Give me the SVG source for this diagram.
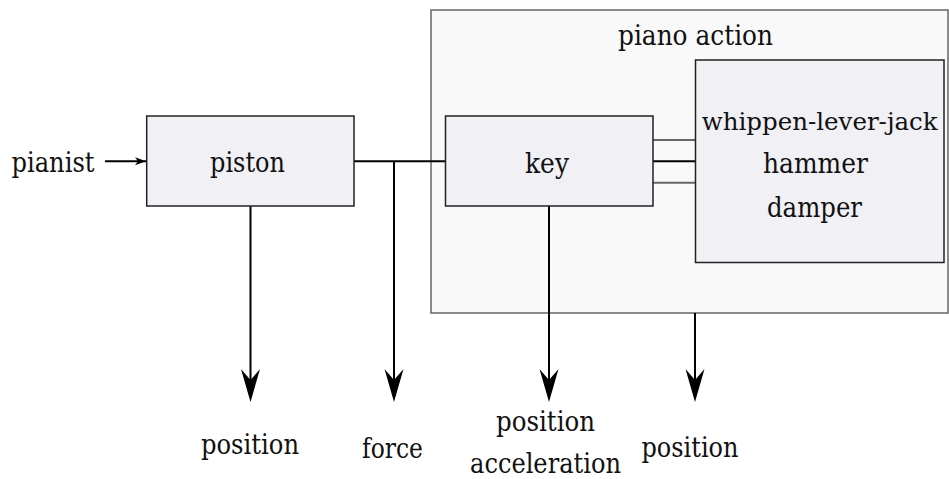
<svg xmlns="http://www.w3.org/2000/svg" width="949" height="479" viewBox="0 0 949 479">
<style>
text{font-family:"DejaVu Serif","Liberation Serif",serif;font-size:27.5px;fill:#111;}
.c{text-anchor:middle;}
.ln{stroke:#000;stroke-width:2;fill:none;}
.gl{stroke:#666;stroke-width:2;fill:none;}
.box{fill:#f0f0f5;stroke:#222;stroke-width:1.5;}
.ah{fill:#000;}
</style>
<defs>
<path id="bigHead" d="M0,0 L-9.5,-33 L0,-22 L9.5,-33 Z"/>
<marker id="small" markerUnits="userSpaceOnUse" markerWidth="14" markerHeight="10" viewBox="-12 -5 14 10" refX="0" refY="0" orient="auto">
<path d="M0,0 L-11,-4 L-8,0 L-11,4 Z" fill="#000"/>
</marker>
</defs>
<g id="piano-action">
<rect x="431" y="10" width="517" height="303" fill="#f9f9f9" stroke="#666" stroke-width="1.5"/>
<text class="c" x="695.5" y="45" textLength="155" lengthAdjust="spacingAndGlyphs">piano action</text>
</g>
<g id="connectors">
<line class="ln" x1="105" y1="161.3" x2="146" y2="161.3" marker-end="url(#small)"/>
<line class="ln" x1="354" y1="161.3" x2="445.5" y2="161.3"/>
<line class="ln" x1="394" y1="161.3" x2="394" y2="385"/>
<line class="ln" x1="250.5" y1="206" x2="250.5" y2="385"/>
<line class="ln" x1="549" y1="206" x2="549" y2="385"/>
<line class="ln" x1="695" y1="313" x2="695" y2="385"/>
<use href="#bigHead" class="ah" x="394" y="402"/>
<use href="#bigHead" class="ah" x="250.5" y="402"/>
<use href="#bigHead" class="ah" x="549" y="402"/>
<use href="#bigHead" class="ah" x="695" y="402"/>
<line class="gl" x1="653" y1="140" x2="695.5" y2="140"/>
<line class="ln" x1="653" y1="161.3" x2="695.5" y2="161.3"/>
<line class="gl" x1="653" y1="182.7" x2="695.5" y2="182.7"/>
</g>
<g id="piston">
<rect class="box" x="146.7" y="116" width="207.3" height="90"/>
<text class="c" x="247.5" y="172" textLength="75" lengthAdjust="spacingAndGlyphs">piston</text>
</g>
<g id="key">
<rect class="box" x="445.5" y="116" width="207.5" height="90"/>
<text class="c" x="547" y="173" textLength="44" lengthAdjust="spacingAndGlyphs">key</text>
</g>
<g id="whippen">
<rect class="box" x="695.5" y="60" width="248.5" height="202.5"/>
<text class="c" x="819.7" y="130" style="font-size:24.5px" textLength="236" lengthAdjust="spacingAndGlyphs">whippen-lever-jack</text>
<text class="c" x="815.5" y="173" textLength="105" lengthAdjust="spacingAndGlyphs">hammer</text>
<text class="c" x="814.5" y="216.5" textLength="95" lengthAdjust="spacingAndGlyphs">damper</text>
</g>
<g id="labels">
<text x="11.5" y="172" textLength="83" lengthAdjust="spacingAndGlyphs">pianist</text>
<text class="c" x="250" y="454" textLength="98" lengthAdjust="spacingAndGlyphs">position</text>
<text class="c" x="392.5" y="458" textLength="61" lengthAdjust="spacingAndGlyphs">force</text>
<text class="c" x="545.5" y="430.5" textLength="99" lengthAdjust="spacingAndGlyphs">position</text>
<text class="c" x="545.5" y="473" textLength="151" lengthAdjust="spacingAndGlyphs">acceleration</text>
<text class="c" x="690" y="457" textLength="97" lengthAdjust="spacingAndGlyphs">position</text>
</g>
</svg>
